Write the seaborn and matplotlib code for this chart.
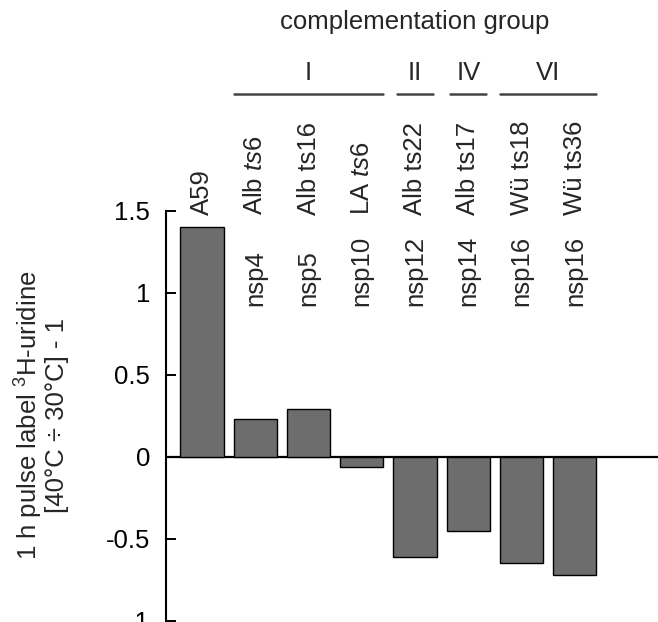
import pandas as pd
import matplotlib
matplotlib.use('Agg')
import matplotlib.pyplot as plt
import seaborn as sns

# data
strains = ['A59', r'Alb $\it{ts6}$', 'Alb ts16', r'LA $\it{ts6}$', 'Alb ts22',
           'Alb ts17', 'Wü ts18', 'Wü ts36']
proteins = ['', 'nsp4', 'nsp5', 'nsp10', 'nsp12', 'nsp14', 'nsp16', 'nsp16']
values = [1.40, 0.23, 0.29, -0.065, -0.61, -0.45, -0.65, -0.72]
group_names = ['I', 'II', 'IV', 'VI']
group_members = [[1, 2, 3], [4], [5], [6, 7]]
yticks = [1.5, 1, 0.5, 0, -0.5, -1]
ytick_labels = ['1.5', '1', '0.5', '0', '-0.5', '-1']

sns.set_style('white')
plt.rcParams['font.family'] = ['Liberation Sans', 'DejaVu Sans']
plt.rcParams['mathtext.fontset'] = 'custom'
plt.rcParams['mathtext.rm'] = 'Liberation Sans'
plt.rcParams['mathtext.it'] = 'Liberation Sans:italic'
plt.rcParams['font.size'] = 18.5

df = pd.DataFrame({'strain': strains, 'value': values})

fig = plt.figure(figsize=(6.58, 6.22), dpi=100)
ax = fig.add_axes([0.2523, 0.002, 0.7477, 0.6593])

sns.barplot(data=df, x='strain', y='value', order=strains, color='#6d6d6d',
            saturation=1, width=0.81, edgecolor='black', linewidth=1, ax=ax)

ax.set_xlim(-0.675, 8.56)
ax.set_ylim(-1, 1.5)
ax.axhline(0, color='black', lw=1.6, zorder=0)

# axes styling
for s in ['top', 'right', 'bottom']:
    ax.spines[s].set_visible(False)
ax.spines['left'].set_bounds(-1, 1.5)
ax.spines['left'].set_linewidth(1.5)
ax.spines['left'].set_color('black')
ax.set_xticks([])
ax.set_xlabel('')
ax.set_yticks(yticks)
ax.set_yticklabels(ytick_labels)
ax.tick_params(axis='y', direction='in', length=7, width=1.4, pad=11.5,
               left=True, colors='black')
ax.set_ylabel('1 h pulse label $^{3}$H-uridine\n[40°C ÷ 30°C] - 1',
              linespacing=1.0)
ax.yaxis.set_label_coords(-0.197, 0.5)

# labels above bars
for i, (st, pr) in enumerate(zip(strains, proteins)):
    ax.text(i, 1.474, st, rotation=90, ha='center', va='bottom')
    if pr:
        ax.text(i, 0.919, pr, rotation=90, ha='center', va='bottom')

# complementation groups
spans = []
for name, members in zip(group_names, group_members):
    pad = 0.4 if len(members) > 1 else 0.34
    x0, x1 = min(members) - pad, max(members) + pad
    spans.append((x0, x1))
    ax.plot([x0, x1], [2.212, 2.212], color='#444444', lw=1.8, clip_on=False)
    ax.text((x0 + x1) / 2, 2.34, name, ha='center', va='center')
ax.text((spans[0][0] + spans[-1][1]) / 2, 2.65, 'complementation group',
        ha='center', va='center')

fig.savefig('out.png', dpi=100)
